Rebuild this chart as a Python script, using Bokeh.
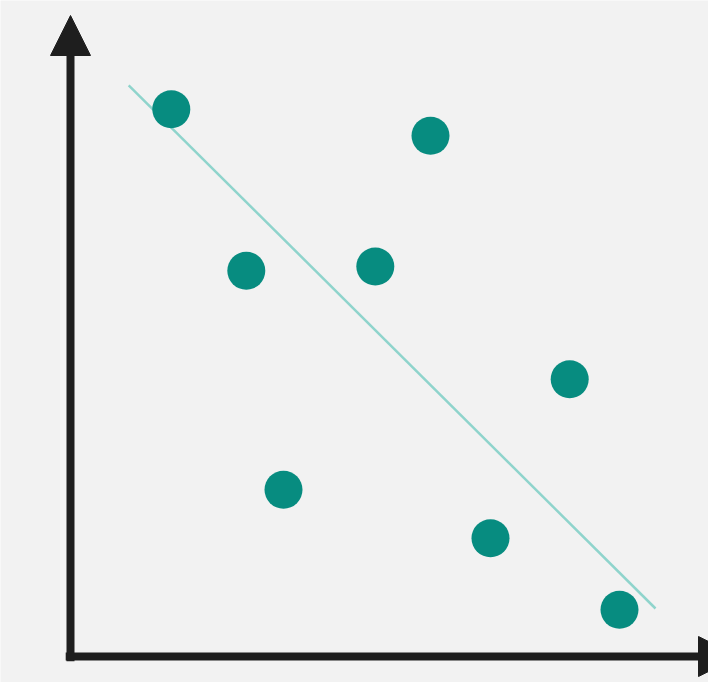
from bokeh.plotting import figure
from bokeh.models import Arrow, NormalHead, Range1d
from bokeh.embed import file_html
from bokeh.resources import INLINE

# data (abstract units; axis origin at 0,0)
pts_x = [1.68, 6.00, 2.93, 5.08, 8.32, 3.55, 7.00, 9.15]
pts_y = [9.12, 8.68, 6.43, 6.50, 4.62, 2.78, 1.97, 0.78]
trend_x = [0.97, 9.75]
trend_y = [9.52, 0.80]

W, H = 708, 682
p = figure(width=W, height=H, output_backend="svg", toolbar_location=None,
           x_range=Range1d(-70/60, 638/60), y_range=Range1d(-26/60, 656/60),
           min_border=0, background_fill_color="#f2f2f2", border_fill_color="#f2f2f2")
p.axis.visible = False
p.grid.visible = False
p.outline_line_color = None

p.line(trend_x, trend_y, line_color="#8fd4cc", line_width=2.5)
p.scatter(pts_x, pts_y, size=38, fill_color="#078c80", line_color=None)

axis_col = "#1e1e1e"
p.add_layout(Arrow(end=NormalHead(size=40, fill_color=axis_col, line_color=axis_col),
                   x_start=0, y_start=-0.08, x_end=0, y_end=641/60,
                   line_color=axis_col, line_width=8))
p.add_layout(Arrow(end=NormalHead(size=40, fill_color=axis_col, line_color=axis_col),
                   x_start=-0.08, y_start=0, x_end=668/60, y_end=0,
                   line_color=axis_col, line_width=8))

open("out.html", "w").write(file_html(p, INLINE))
